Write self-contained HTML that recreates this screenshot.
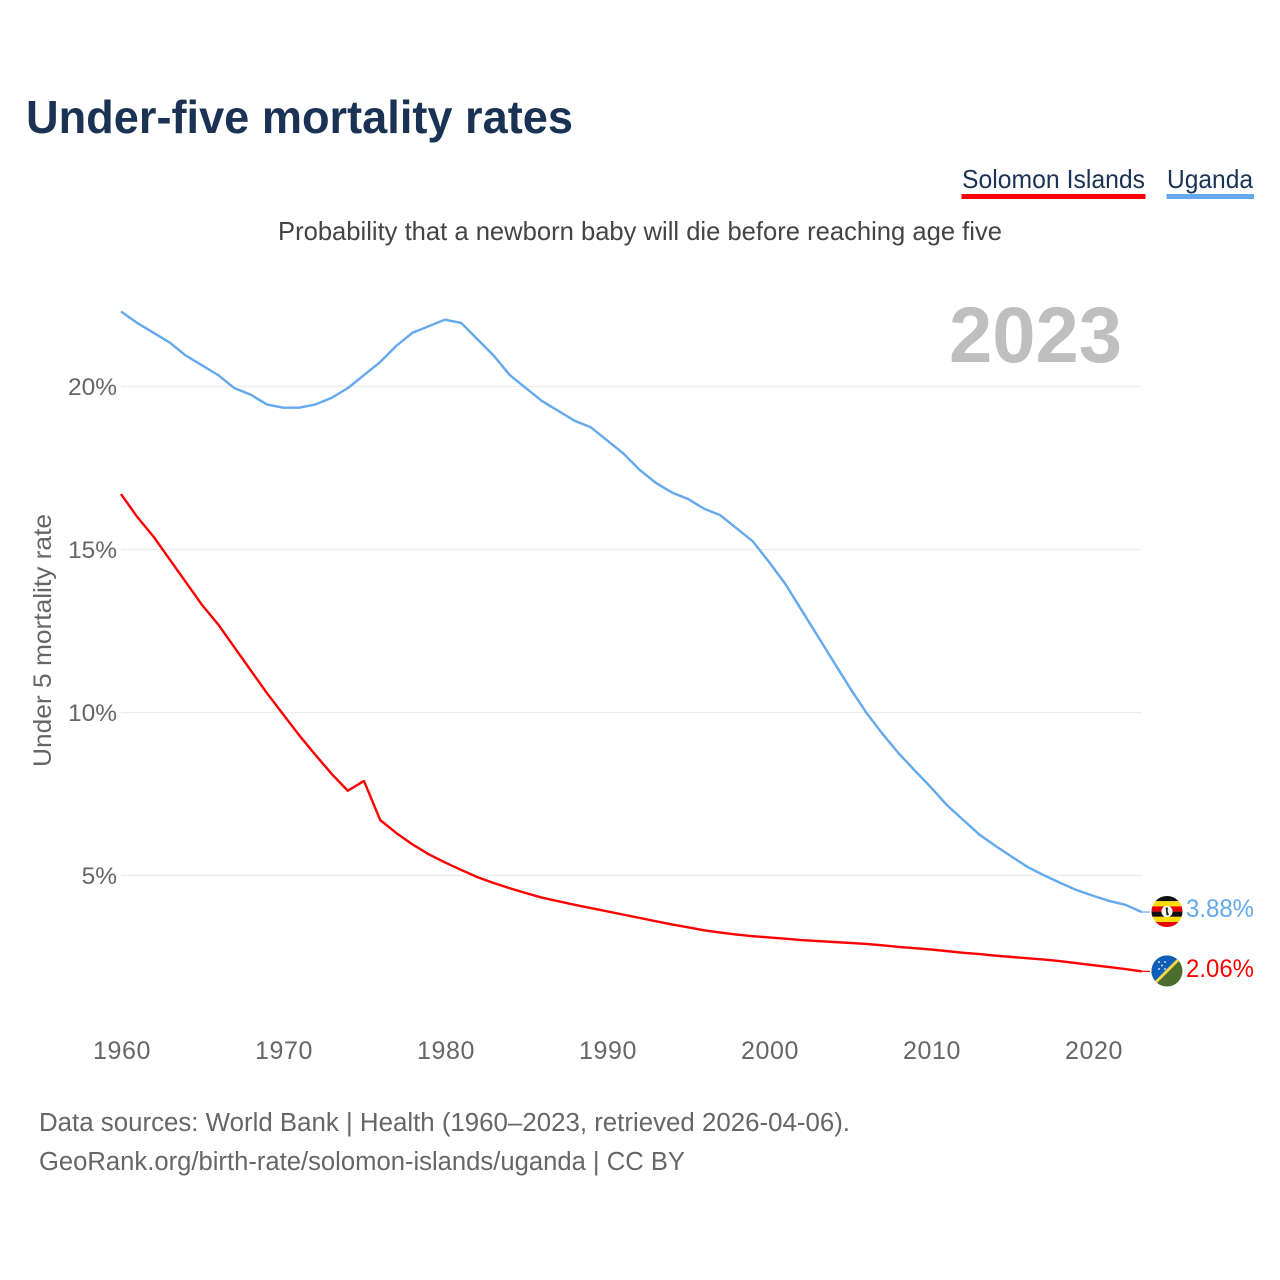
<!DOCTYPE html>
<html lang="en">
<head>
<meta charset="utf-8">
<title>Under-five mortality rates</title>
<style>
html,body{margin:0;padding:0;background:#fff;}
#chart{display:block;width:1280px;height:1280px;font-family:"Liberation Sans",sans-serif;}
</style>
</head>
<body>
<svg id="chart" xmlns="http://www.w3.org/2000/svg" width="1280" height="1280" viewBox="0 0 1280 1280">
  <defs>
    <clipPath id="flag-clip-ug"><circle cx="1167" cy="911.5" r="15.5"/></clipPath>
    <clipPath id="flag-clip-sb"><circle cx="1167" cy="971" r="15.5"/></clipPath>
  </defs>
  <rect x="0" y="0" width="1280" height="1280" fill="#fff"/>

  <text x="26" y="133" font-size="46" font-weight="700" fill="#1a3254" textLength="547" lengthAdjust="spacingAndGlyphs">Under-five mortality rates</text>

  <g>
    <g>
      <text x="962" y="188" font-size="26" fill="#1a3254" textLength="183" lengthAdjust="spacingAndGlyphs">Solomon Islands</text>
      <rect x="961.5" y="194" width="184" height="5" fill="#ff0000"/>
    </g>
    <g>
      <text x="1167" y="188" font-size="26" fill="#1a3254" textLength="86" lengthAdjust="spacingAndGlyphs">Uganda</text>
      <rect x="1166.5" y="194" width="87.5" height="5" fill="#64a8ee"/>
    </g>
  </g>

  <text x="278" y="240" font-size="26" fill="#444" textLength="724" lengthAdjust="spacingAndGlyphs">Probability that a newborn baby will die before reaching age five</text>

  <text x="949" y="362" font-size="79" font-weight="700" fill="#bfbfbf" textLength="173" lengthAdjust="spacingAndGlyphs">2023</text>

  <g id="grid"></g>
  <g id="y-axis"></g>
  <g id="x-axis"></g>

  <text transform="translate(51,640.5) rotate(-90)" text-anchor="middle" font-size="25" fill="#666" textLength="253" lengthAdjust="spacingAndGlyphs">Under 5 mortality rate</text>

  <g id="series"></g>

  <g clip-path="url(#flag-clip-ug)">
    <rect x="1151" y="896" width="32" height="5.2" fill="#111"/>
    <rect x="1151" y="901.2" width="32" height="5.2" fill="#fcdc04"/>
    <rect x="1151" y="906.4" width="32" height="5.2" fill="#e60000"/>
    <rect x="1151" y="911.6" width="32" height="5.2" fill="#111"/>
    <rect x="1151" y="916.8" width="32" height="5.2" fill="#fcdc04"/>
    <rect x="1151" y="922" width="32" height="5.2" fill="#e60000"/>
    <circle cx="1167" cy="911.5" r="5.6" fill="#fff"/>
    <path d="M1165.5 907.5 L1168 907.5 L1167.6 911 L1169 915 L1166.5 915.5 L1166 911 Z" fill="#222"/>
  </g>

  <g clip-path="url(#flag-clip-sb)">
    <rect x="1151" y="955" width="32" height="32" fill="#4b6e2e"/>
    <path d="M1151 955 H1183 L1151 987 Z" fill="#0f5fb8"/>
    <path d="M1151 985 L1181 955 L1183 957 L1153 987 Z" fill="#f4d84a"/>
    <circle cx="1159" cy="962" r="0.9" fill="#fff"/>
    <circle cx="1165" cy="962" r="0.9" fill="#fff"/>
    <circle cx="1162" cy="965.5" r="0.9" fill="#fff"/>
    <circle cx="1159" cy="969" r="0.9" fill="#fff"/>
    <circle cx="1165" cy="969" r="0.9" fill="#fff"/>
  </g>

  <text id="label-ug" x="1186" y="917" font-size="25" fill="#64a8ee" textLength="68" lengthAdjust="spacingAndGlyphs"></text>
  <text id="label-sb" x="1186" y="977" font-size="25" fill="#ff0000" textLength="68" lengthAdjust="spacingAndGlyphs"></text>

  <text x="39" y="1131" font-size="25.5" fill="#666" textLength="811" lengthAdjust="spacingAndGlyphs">Data sources: World Bank | Health (1960–2023, retrieved 2026-04-06).</text>
  <text x="39" y="1170" font-size="25.5" fill="#666" textLength="646" lengthAdjust="spacingAndGlyphs">GeoRank.org/birth-rate/solomon-islands/uganda | CC BY</text>
</svg>

<script>
const firstYear = 1960;
const yTicks = [5, 10, 15, 20];
const xTicks = [1960, 1970, 1980, 1990, 2000, 2010, 2020];
const uganda = [22.3,21.95,21.65,21.35,20.95,20.65,20.35,19.95,19.75,19.45,19.35,19.35,19.45,19.65,19.95,20.35,20.75,21.25,21.65,21.85,22.05,21.95,21.45,20.95,20.35,19.95,19.55,19.25,18.95,18.75,18.35,17.95,17.45,17.05,16.75,16.55,16.25,16.05,15.65,15.25,14.62,13.95,13.15,12.35,11.55,10.75,10.0,9.35,8.75,8.22,7.7,7.15,6.7,6.25,5.9,5.57,5.25,5.0,4.77,4.55,4.38,4.22,4.1,3.88];
const solomonIslands = [16.7,16.0,15.4,14.7,14.0,13.3,12.7,12.0,11.3,10.6,9.95,9.3,8.7,8.12,7.6,7.9,6.7,6.3,5.95,5.65,5.4,5.17,4.95,4.77,4.61,4.46,4.32,4.21,4.1,4.0,3.9,3.8,3.7,3.6,3.5,3.41,3.32,3.25,3.19,3.14,3.1,3.06,3.02,2.99,2.96,2.93,2.9,2.86,2.81,2.77,2.73,2.68,2.63,2.59,2.54,2.5,2.46,2.42,2.37,2.31,2.25,2.19,2.13,2.06];

const SVG_NS = "http://www.w3.org/2000/svg";
const plotLeft = 121, plotRight = 1141.6, lastYear = firstYear + uganda.length - 1;
function xScale(year) { return plotLeft + (year - firstYear) * (plotRight - plotLeft) / (lastYear - firstYear); }
function yScale(value) { return 1038.5 - value * 32.6; }

const gridGroup = document.getElementById("grid");
const yAxisGroup = document.getElementById("y-axis");
const xAxisGroup = document.getElementById("x-axis");
const seriesGroup = document.getElementById("series");

yTicks.forEach(function (tick) {
  const line = document.createElementNS(SVG_NS, "line");
  line.setAttribute("x1", plotLeft);
  line.setAttribute("x2", plotRight);
  line.setAttribute("y1", yScale(tick));
  line.setAttribute("y2", yScale(tick));
  line.setAttribute("stroke", "#ececec");
  line.setAttribute("stroke-width", "1.2");
  
  
  gridGroup.appendChild(line);

  const label = document.createElementNS(SVG_NS, "text");
  label.setAttribute("x", 117);
  label.setAttribute("y", yScale(tick) + 8.5);
  label.setAttribute("text-anchor", "end");
  label.setAttribute("font-size", "24.5");
  label.setAttribute("fill", "#666");
  label.textContent = tick + "%";
  
  
  yAxisGroup.appendChild(label);
});

xTicks.forEach(function (tick) {
  const label = document.createElementNS(SVG_NS, "text");
  label.setAttribute("x", xScale(tick) + 1);
  label.setAttribute("y", 1059);
  label.setAttribute("text-anchor", "middle");
  label.setAttribute("font-size", "25");
  label.setAttribute("letter-spacing", "0.6");
  label.setAttribute("fill", "#666");
  label.textContent = tick;
  
  
  xAxisGroup.appendChild(label);
});

function drawSeries(values, color, name) {
  const points = values.map(function (v, i) {
    return xScale(firstYear + i).toFixed(2) + "," + yScale(v).toFixed(2);
  }).join(" ");
  const poly = document.createElementNS(SVG_NS, "polyline");
  poly.setAttribute("points", points);
  poly.setAttribute("fill", "none");
  poly.setAttribute("stroke", color);
  poly.setAttribute("stroke-width", "2.4");
  poly.setAttribute("stroke-linejoin", "round");
  
  
  seriesGroup.appendChild(poly);

  const last = values[values.length - 1];
  const leader = document.createElementNS(SVG_NS, "line");
  leader.setAttribute("x1", plotRight);
  leader.setAttribute("x2", 1150);
  leader.setAttribute("y1", yScale(last));
  leader.setAttribute("y2", yScale(last));
  leader.setAttribute("stroke", color);
  leader.setAttribute("stroke-width", "1.2");
  
  
  seriesGroup.appendChild(leader);
}
drawSeries(solomonIslands, "#ff0000", "line-solomon-islands");
drawSeries(uganda, "#64a8ee", "line-uganda");

document.getElementById("label-ug").textContent = uganda[uganda.length - 1].toFixed(2) + "%";
document.getElementById("label-sb").textContent = solomonIslands[solomonIslands.length - 1].toFixed(2) + "%";
</script>
</body>
</html>
